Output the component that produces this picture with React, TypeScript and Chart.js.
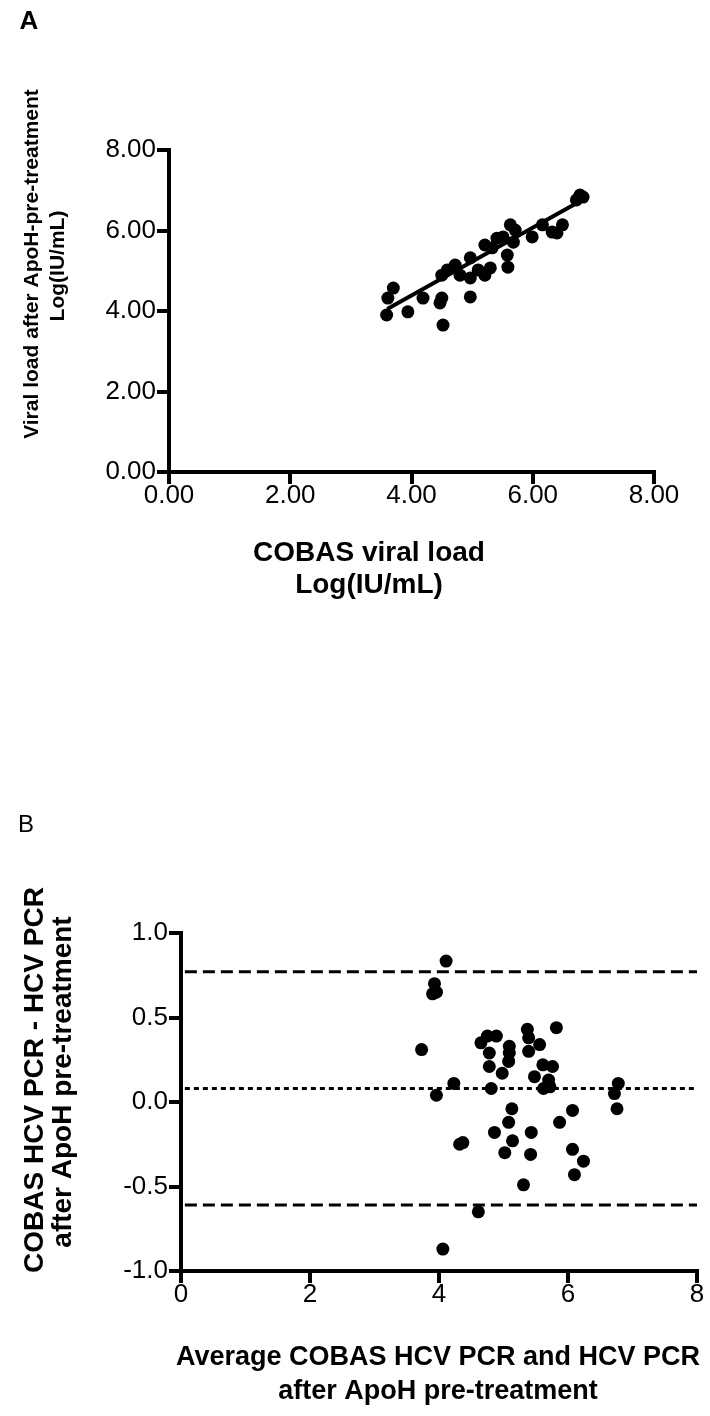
import React, { useEffect, useRef } from "react";
import { Chart, registerables } from "chart.js";

Chart.register(...registerables);

// ---------- Panel A data: COBAS vs ApoH viral load (log IU/mL) ----------
const cobasLoad = [
  3.59, 3.61, 3.7, 3.94, 4.19, 4.5, 4.47, 4.52, 4.97, 4.5, 4.59, 4.72, 4.8, 4.97, 4.97, 5.1, 5.21,
  5.3, 5.21, 5.33, 5.41, 5.51, 5.58, 5.59, 5.63, 5.71, 5.68, 5.99, 6.16, 6.32, 6.4, 6.49, 6.78,
  6.83, 6.72,
];
const apohLoad = [
  3.9, 4.32, 4.57, 3.98, 4.32, 4.32, 4.2, 3.65, 4.35, 4.89, 5.02, 5.14, 4.89, 5.32, 4.82, 5.02, 4.89,
  5.07, 5.64, 5.57, 5.81, 5.84, 5.39, 5.09, 6.14, 6.01, 5.71, 5.84, 6.14, 5.96, 5.94, 6.14, 6.88,
  6.83, 6.76,
];
const fitLineX = [3.6, 6.75];
const fitLineY = [4.05, 6.7];
const aTicks = [0, 2, 4, 6, 8];
const aTickLabels = ["0.00", "2.00", "4.00", "6.00", "8.00"];

// ---------- Panel B data: Bland-Altman ----------
const averageLoad = [
  4.11, 3.93, 3.9, 3.96, 3.73, 4.23, 3.96, 4.65, 4.75, 4.89, 4.78, 5.09, 5.09, 5.08, 4.78, 4.98,
  4.81, 5.37, 5.39, 5.39, 5.82, 5.56, 5.61, 5.76, 5.48, 5.7, 5.62, 5.72, 6.78, 6.72, 6.76, 6.07,
  5.87, 5.43, 5.42, 6.07, 6.24, 6.1, 4.37, 4.32, 5.13, 5.08, 4.86, 5.14, 5.02, 5.31, 4.61, 4.06,
];
const loadDifference = [
  0.834, 0.7, 0.64, 0.65, 0.31, 0.11, 0.04, 0.35, 0.39, 0.39, 0.29, 0.33, 0.29, 0.24, 0.21, 0.17,
  0.08, 0.43, 0.38, 0.3, 0.44, 0.34, 0.22, 0.21, 0.15, 0.13, 0.08, 0.09, 0.11, 0.05, -0.04, -0.05,
  -0.12, -0.18, -0.31, -0.28, -0.35, -0.43, -0.24, -0.25, -0.04, -0.12, -0.18, -0.23, -0.3, -0.49,
  -0.65, -0.87,
];
const biasValue = 0.08;
const upperLimit = 0.77;
const lowerLimit = -0.61;
const limitLineX = [0.06, 8];
const bXTicks = [0, 2, 4, 6, 8];
const bXTickLabels = ["0", "2", "4", "6", "8"];
const bYTicks = [-1, -0.5, 0, 0.5, 1];
const bYTickLabels = ["-1.0", "-0.5", "0.0", "0.5", "1.0"];

// ---------- text helpers ----------
const FONT = '"Liberation Sans", Arial, Helvetica, sans-serif';
const TICK_SIZE = 26;

type TextItem = {
  text: string;
  x: number;
  y: number;
  size: number;
  bold?: boolean;
  rotate?: number;
  align?: CanvasTextAlign;
};

function drawText(ctx: CanvasRenderingContext2D, t: TextItem) {
  ctx.save();
  ctx.translate(t.x, t.y);
  if (t.rotate) ctx.rotate(t.rotate);
  ctx.font = `${t.bold ? "bold " : ""}${t.size}px ${FONT}`;
  ctx.fillStyle = "#000";
  ctx.textAlign = t.align || "center";
  ctx.textBaseline = "middle";
  ctx.fillText(t.text, 0, 0);
  ctx.restore();
}

function makeTextPlugin(cfg: {
  xTicks: number[];
  xLabels: string[];
  yTicks: number[];
  yLabels: string[];
  texts: TextItem[];
}) {
  return {
    id: "textLayer",
    afterDraw(chart: any) {
      const { ctx, chartArea, scales } = chart;
      const xs = scales.x;
      const ys = scales.y;
      cfg.xTicks.forEach((v, i) =>
        drawText(ctx, {
          text: cfg.xLabels[i],
          x: xs.getPixelForValue(v),
          y: chartArea.bottom + 24,
          size: TICK_SIZE,
        })
      );
      cfg.yTicks.forEach((v, i) =>
        drawText(ctx, {
          text: cfg.yLabels[i],
          x: chartArea.left - 13,
          y: ys.getPixelForValue(v),
          size: TICK_SIZE,
          align: "right",
        })
      );
      cfg.texts.forEach((t) => drawText(ctx, t));
    },
  };
}

function axisOptions(min: number, max: number, step: number, fit: (s: any) => void) {
  return {
    type: "linear" as const,
    min,
    max,
    afterFit: fit,
    ticks: { stepSize: step, display: false },
    grid: {
      display: true,
      drawOnChartArea: false,
      drawTicks: true,
      tickLength: 12,
      color: "#000",
      lineWidth: 4,
    },
    border: { display: true, color: "#000", width: 4 },
  };
}

const A_H = 700;
const B_H = 716;

export default function App() {
  const refA = useRef<HTMLCanvasElement | null>(null);
  const refB = useRef<HTMLCanvasElement | null>(null);

  useEffect(() => {
    const charts: Chart[] = [];
    if (refA.current) {
      const pointsA = cobasLoad.map((x, i) => ({ x, y: apohLoad[i] }));
      const fitPts = fitLineX.map((x, i) => ({ x, y: fitLineY[i] }));
      charts.push(
        new Chart(refA.current, {
          type: "scatter",
          data: {
            datasets: [
              {
                data: pointsA,
                backgroundColor: "#000",
                borderWidth: 0,
                pointRadius: 6.5,
                order: 0,
              },
              {
                data: fitPts,
                showLine: true,
                borderColor: "#000",
                borderWidth: 4,
                pointRadius: 0,
                order: 1,
              },
            ],
          },
          options: {
            responsive: false,
            maintainAspectRatio: false,
            devicePixelRatio: 1,
            animation: false,
            layout: { padding: { left: 0, top: 150, right: 56, bottom: 0 } },
            plugins: { legend: { display: false }, tooltip: { enabled: false } },
            scales: {
              x: axisOptions(0, 8, 2, (s: any) => {
                s.height = A_H - 472;
              }),
              y: axisOptions(0, 8, 2, (s: any) => {
                s.width = 169;
              }),
            },
          },
          plugins: [
            makeTextPlugin({
              xTicks: aTicks,
              xLabels: aTickLabels,
              yTicks: aTicks,
              yLabels: aTickLabels,
              texts: [
                { text: "A", x: 29, y: 22, size: 26, bold: true },
                { text: "COBAS viral load", x: 369, y: 553, size: 28, bold: true },
                { text: "Log(IU/mL)", x: 369, y: 585, size: 28, bold: true },
                {
                  text: "Viral load after ApoH-pre-treatment",
                  x: 32,
                  y: 264,
                  size: 21,
                  bold: true,
                  rotate: -Math.PI / 2,
                },
                { text: "Log(IU/mL)", x: 58, y: 266, size: 21, bold: true, rotate: -Math.PI / 2 },
              ],
            }),
          ],
        } as any)
      );
    }
    if (refB.current) {
      const pointsB = averageLoad.map((x, i) => ({ x, y: loadDifference[i] }));
      const hLine = (y: number) => limitLineX.map((x) => ({ x, y }));
      charts.push(
        new Chart(refB.current, {
          type: "scatter",
          data: {
            datasets: [
              {
                data: pointsB,
                backgroundColor: "#000",
                borderWidth: 0,
                pointRadius: 6.5,
                order: 0,
              },
              {
                data: hLine(upperLimit),
                showLine: true,
                borderColor: "#000",
                borderWidth: 3,
                borderDash: [12, 6],
                pointRadius: 0,
                order: 1,
              },
              {
                data: hLine(biasValue),
                showLine: true,
                borderColor: "#000",
                borderWidth: 3,
                borderDash: [5, 4],
                pointRadius: 0,
                order: 1,
              },
              {
                data: hLine(lowerLimit),
                showLine: true,
                borderColor: "#000",
                borderWidth: 3,
                borderDash: [12, 6],
                pointRadius: 0,
                order: 1,
              },
            ],
          },
          options: {
            responsive: false,
            maintainAspectRatio: false,
            devicePixelRatio: 1,
            animation: false,
            layout: { padding: { left: 0, top: 233, right: 13, bottom: 0 } },
            plugins: { legend: { display: false }, tooltip: { enabled: false } },
            scales: {
              x: axisOptions(0, 8, 2, (s: any) => {
                s.height = B_H - 571;
              }),
              y: axisOptions(-1, 1, 0.5, (s: any) => {
                s.width = 181;
              }),
            },
          },
          plugins: [
            makeTextPlugin({
              xTicks: bXTicks,
              xLabels: bXTickLabels,
              yTicks: bYTicks,
              yLabels: bYTickLabels,
              texts: [
                { text: "B", x: 26, y: 125, size: 24 },
                {
                  text: "Average COBAS HCV PCR and HCV PCR",
                  x: 438,
                  y: 658,
                  size: 27,
                  bold: true,
                },
                { text: "after ApoH pre-treatment", x: 438, y: 692, size: 27, bold: true },
                {
                  text: "COBAS HCV PCR - HCV PCR",
                  x: 35,
                  y: 380,
                  size: 28,
                  bold: true,
                  rotate: -Math.PI / 2,
                },
                {
                  text: "after ApoH pre-treatment",
                  x: 63,
                  y: 382,
                  size: 28,
                  bold: true,
                  rotate: -Math.PI / 2,
                },
              ],
            }),
          ],
        } as any)
      );
    }
    return () => charts.forEach((c) => c.destroy());
  }, []);

  return (
    <div
      style={{
        position: "absolute",
        left: 0,
        top: 0,
        width: 710,
        height: 1416,
        background: "#fff",
        overflow: "hidden",
      }}
    >
      <canvas
        ref={refA}
        width={710}
        height={A_H}
        style={{ position: "absolute", left: 0, top: 0, width: 710, height: A_H, display: "block" }}
      />
      <canvas
        ref={refB}
        width={710}
        height={B_H}
        style={{ position: "absolute", left: 0, top: A_H, width: 710, height: B_H, display: "block" }}
      />
    </div>
  );
}
